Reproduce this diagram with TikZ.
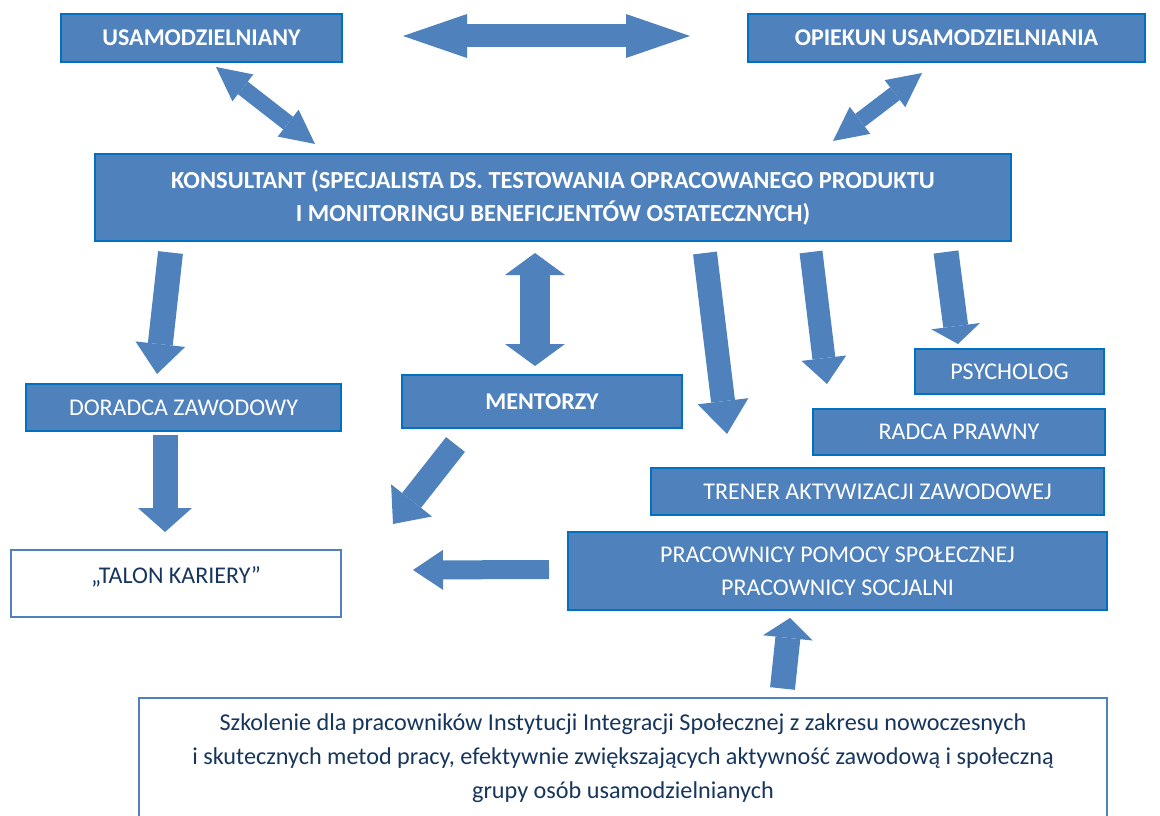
\documentclass[tikz,border=0pt]{standalone}
\usepackage{fontspec}
\setmainfont{Carlito}
\usepackage{tikz}
\usetikzlibrary{arrows.meta}
\definecolor{boxfill}{RGB}{79, 129, 189}
\definecolor{boxline}{RGB}{0, 112, 192}
\definecolor{navytext}{RGB}{23, 54, 93}
\newcommand{\lblfont}{\fontsize{24}{33}\selectfont}
\newcommand{\konsfont}{\fontsize{24.5}{33}\selectfont}
\newcommand{\notefont}{\fontsize{24.2}{34}\selectfont}

\begin{document}
\begin{tikzpicture}[x=1pt, y=-1pt,
  bluebox/.style={draw=boxline, line width=2pt, fill=boxfill, text=white, font=\lblfont, align=center, inner sep=0pt},
  whitebox/.style={draw=boxfill, line width=1.5pt, fill=white, text=navytext, align=center},
  bigarrow/.style n args={3}{draw=boxfill, line width=#1, -{Triangle[width=#2, length=#3, line width=0pt]}},
  bigboth/.style n args={3}{draw=boxfill, line width=#1, {Triangle[width=#2, length=#3, line width=0pt]}-{Triangle[width=#2, length=#3, line width=0pt]}}]
  \useasboundingbox (0,0) rectangle (1160,816);

  % Top row
  \node[bluebox, font=\lblfont\bfseries, minimum width=281, minimum height=48] (usam) at (201.5,38) {USAMODZIELNIANY};
  \node[bluebox, font=\lblfont\bfseries, minimum width=397, minimum height=48] (opiekun) at (946.5,38) {OPIEKUN USAMODZIELNIANIA};
  \node[bluebox, font=\konsfont\bfseries, minimum width=916, minimum height=87] (kons) at (553,197.5)
    {KONSULTANT (SPECJALISTA DS. TESTOWANIA OPRACOWANEGO PRODUKTU\\I MONITORINGU BENEFICJENTÓW OSTATECZNYCH)};

  % Middle row
  \node[bluebox, minimum width=315, minimum height=47] (doradca) at (183.5,407.5) {DORADCA ZAWODOWY};
  \node[bluebox, font=\lblfont\bfseries, minimum width=280, minimum height=53] (mentorzy) at (542,401.5) {MENTORZY};
  \node[bluebox, minimum width=189, minimum height=45] (psycholog) at (1009.5,371.5) {PSYCHOLOG};
  \node[bluebox, minimum width=292, minimum height=46] (radca) at (959,432) {RADCA PRAWNY};
  \node[bluebox, minimum width=453, minimum height=47] (trener) at (877.5,491.5) {TRENER AKTYWIZACJI ZAWODOWEJ};
  \node[bluebox, minimum width=539, minimum height=78] (pracownicy) at (837.5,571)
    {PRACOWNICY POMOCY SPOŁECZNEJ\\PRACOWNICY SOCJALNI};

  % White boxes
  \node[whitebox, font=\lblfont, minimum width=330, minimum height=67, text depth=17pt, inner sep=0pt] (talon) at (176,583.5) {„TALON KARIERY”};
  \node[whitebox, font=\notefont, anchor=north, minimum width=968, inner ysep=16pt] (szkolenie) at (623,697)
    {Szkolenie dla pracowników Instytucji Integracji Społecznej z zakresu nowoczesnych\\
     i skutecznych metod pracy, efektywnie zwiększających aktywność zawodową i społeczną\\
     grupy osób usamodzielnianych};

  % Arrow ends
  \coordinate (ha1) at (403,36);      \coordinate (ha2) at (690,36);
  \coordinate (la1) at (216,67);      \coordinate (la2) at (315,144);
  \coordinate (ra1) at (922,73);      \coordinate (ra2) at (833,141);
  \coordinate (va1) at (535,253);     \coordinate (va2) at (535,366);
  \coordinate (da1) at (170.5,252.5); \coordinate (da2) at (157,374);
  \coordinate (db1) at (165,435);     \coordinate (db2) at (165,532);
  \coordinate (ta1) at (705,253);     \coordinate (ta2) at (727,434);
  \coordinate (ma1) at (811,252);     \coordinate (ma2) at (827,384);
  \coordinate (pa1) at (946,252);     \coordinate (pa2) at (958,344);
  \coordinate (mb1) at (455.5,444.5); \coordinate (mb2) at (393,524);
  \coordinate (hb1) at (549,569.5);   \coordinate (hb2) at (413,570);
  \coordinate (ua1) at (782.5,688.5); \coordinate (ua2) at (790,618);

  % Block arrows
  \draw[bigboth={23}{44}{64}] (ha1) -- (ha2);
  \draw[bigboth={16}{34}{34}] (la1) -- (la2);
  \draw[bigboth={16}{34}{34}] (ra1) -- (ra2);
  \draw[bigboth={30}{60}{22}] (va1) -- (va2);
  \draw[bigarrow={25}{50}{30}] (da1) -- (da2);
  \draw[bigarrow={25}{54}{24}] (db1) -- (db2);
  \draw[bigarrow={24}{51}{33}] (ta1) -- (ta2);
  \draw[bigarrow={23}{45}{26}] (ma1) -- (ma2);
  \draw[bigarrow={25}{49}{18}] (pa1) -- (pa2);
  \draw[bigarrow={24}{52}{30}] (mb1) -- (mb2);
  \draw[bigarrow={19}{40}{30}] (hb1) -- (hb2);
  \draw[bigarrow={25}{50}{20}] (ua1) -- (ua2);
\end{tikzpicture}
\end{document}
